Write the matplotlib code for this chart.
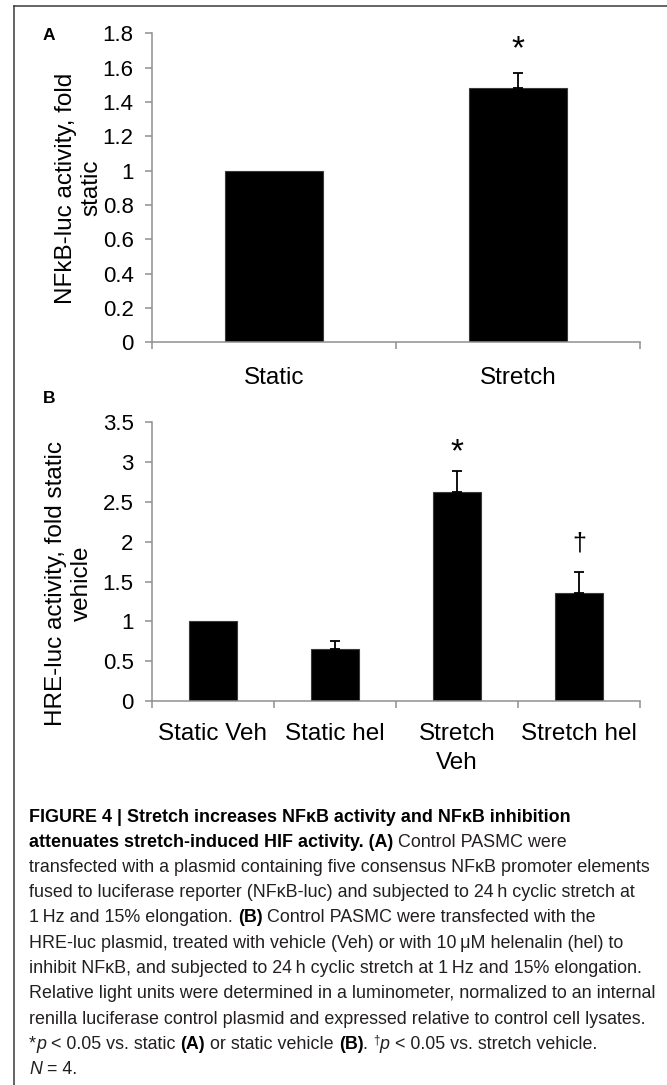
import numpy as np
import matplotlib
matplotlib.use("Agg")
import matplotlib.pyplot as plt
from matplotlib.lines import Line2D
from matplotlib.ticker import FixedLocator, FuncFormatter
from matplotlib.font_manager import FontProperties

# ---------------- data ----------------
cats_a = ["Static", "Stretch"]
vals_a = [1.0, 1.48]
err_a = [0.0, 0.09]
sig_a = ["", "*"]
yticks_a = [0, 0.2, 0.4, 0.6, 0.8, 1.0, 1.2, 1.4, 1.6, 1.8]
ylabel_a = "NFkB-luc activity, fold\nstatic"

cats_b = ["Static Veh", "Static hel", "Stretch\nVeh", "Stretch hel"]
vals_b = [1.0, 0.65, 2.63, 1.36]
err_b = [0.0, 0.10, 0.26, 0.26]
sig_b = ["", "", "*", "\u2020"]
yticks_b = [0, 0.5, 1.0, 1.5, 2.0, 2.5, 3.0, 3.5]
ylabel_b = "HRE-luc activity, fold static\nvehicle"

# ---------------- figure ----------------
W, H = 667, 1085
FAM = ["Liberation Sans", "DejaVu Sans"]
plt.rcParams["font.family"] = FAM
fig = plt.figure(figsize=(W / 100, H / 100), dpi=100)

AX_COL = "#8f8f8f"


def px_rect(x0, y_top, x1, y_bot):
    return [x0 / W, 1 - y_bot / H, (x1 - x0) / W, (y_bot - y_top) / H]


def draw_panel(rect, cats, vals, errs, sigs, yticks, xpad, sig_off):
    ax = fig.add_axes(rect)
    n = len(cats)
    x = np.arange(n)
    ax.bar(x, vals, width=0.4, color="black", edgecolor="#3a3a3a", linewidth=0.8, zorder=2)
    idx = [i for i in range(n) if errs[i] > 0]
    if idx:
        ax.errorbar([x[i] for i in idx], [vals[i] for i in idx],
                    yerr=[[0] * len(idx), [errs[i] for i in idx]],
                    fmt="none", ecolor="black", elinewidth=1.3, capsize=3.8,
                    capthick=1.3, zorder=3)
    # significance marks
    for i in range(n):
        s = sigs[i]
        if not s:
            continue
        top = vals[i] + errs[i]
        if s == "*":
            fs, cen = 24, 0.58
        else:
            fs, cen = 18, 0.29
        off = sig_off[s] - cen * fs
        ax.annotate(s, xy=(x[i], top), xytext=(0, off), textcoords="offset points",
                    ha="center", va="baseline", fontsize=fs, color="black")
    ax.set_xlim(-0.5, n - 0.5)
    ax.set_ylim(yticks[0], yticks[-1])
    for sp in ["top", "right"]:
        ax.spines[sp].set_visible(False)
    for sp in ["left", "bottom"]:
        ax.spines[sp].set_color(AX_COL)
        ax.spines[sp].set_linewidth(1.1)
    ax.yaxis.set_major_locator(FixedLocator(yticks))
    ax.yaxis.set_major_formatter(FuncFormatter(lambda v, p: f"{v:g}"))
    ax.tick_params(axis="y", direction="out", length=4.8, width=1.1, color=AX_COL,
                   labelsize=16, pad=8.5, labelcolor="black")
    ax.set_xticks(x)
    ax.set_xticklabels(cats, fontsize=17.5, multialignment="center", linespacing=1.4)
    ax.set_xticks(np.arange(-0.5, n, 1.0), minor=True)
    ax.tick_params(axis="x", which="major", length=0, pad=xpad, labelcolor="black")
    ax.tick_params(axis="x", which="minor", direction="out", length=5.2, width=1.1, color=AX_COL)
    return ax


ax_a = draw_panel(px_rect(152, 33.3, 640, 342.3), cats_a, vals_a, err_a, sig_a,
                  yticks_a, 17.5, {"*": 24.5})
ax_b = draw_panel(px_rect(152, 422.3, 640, 701), cats_b, vals_b, err_b, sig_b,
                  yticks_b, 16.0, {"*": 21, "\u2020": 20.5})

fig.text(79 / W, 1 - 188 / H, ylabel_a, rotation=90, ha="center", va="center",
         multialignment="center", fontsize=17.5)
fig.text(69 / W, 1 - 583 / H, ylabel_b, rotation=90, ha="center", va="center",
         multialignment="center", fontsize=17.5)
fig.text(49 / W, 1 - 36 / H, "A", weight="bold", ha="center", va="center", fontsize=12.5)
fig.text(49 / W, 1 - 399 / H, "B", weight="bold", ha="center", va="center", fontsize=12.5)

# frame
fig.add_artist(Line2D([14 / W, 1], [1 - 6 / H, 1 - 6 / H], transform=fig.transFigure,
                      color="#3a3a3a", lw=1.1))
fig.add_artist(Line2D([14 / W, 14 / W], [0, 1 - 6 / H], transform=fig.transFigure,
                      color="#3a3a3a", lw=1.1))

# ---------------- caption ----------------
R, B_, I_, S_ = "r", "b", "i", "sup"
ts = "\u2009"
caption = [
    [("FIGURE 4 | Stretch increases NF\u03baB activity and NF\u03baB inhibition", B_)],
    [("attenuates stretch-induced HIF activity. (A)", B_), (" Control PASMC were", R)],
    [("transfected with a plasmid containing five consensus NF\u03baB promoter elements", R)],
    [(f"fused to luciferase reporter (NF\u03baB-luc) and subjected to 24{ts}h cyclic stretch at", R)],
    [(f"1{ts}Hz and 15% elongation. ", R), ("(B)", B_), (" Control PASMC were transfected with the", R)],
    [(f"HRE-luc plasmid, treated with vehicle (Veh) or with 10{ts}\u03bcM helenalin (hel) to", R)],
    [(f"inhibit NF\u03baB, and subjected to 24{ts}h cyclic stretch at 1{ts}Hz and 15% elongation.", R)],
    [("Relative light units were determined in a luminometer, normalized to an internal", R)],
    [("renilla luciferase control plasmid and expressed relative to control cell lysates.", R)],
    [("*", R), ("p", I_), (" < 0.05 vs. static ", R), ("(A)", B_), (" or static vehicle ", R),
     ("(B)", B_), (". ", R), ("\u2020", S_), ("p", I_), (" < 0.05 vs. stretch vehicle.", R)],
    [("N", I_), (" = 4.", R)],
]

renderer = fig.canvas.get_renderer()


def fp(style, size):
    if style == B_:
        return FontProperties(family=FAM, weight="bold", size=size)
    if style == I_:
        return FontProperties(family=FAM, style="italic", size=size)
    if style == S_:
        return FontProperties(family=FAM, size=size * 0.65)
    return FontProperties(family=FAM, size=size)


def seg_width(text, style, size):
    prop = fp(style, size)
    w1, _, _ = renderer.get_text_width_height_descent("H" + text + "H", prop, ismath=False)
    w2, _, _ = renderer.get_text_width_height_descent("HH", prop, ismath=False)
    return w1 - w2


# fit caption size so that the widest regular line spans the text block width
ref_line = caption[2][0][0]
w10 = seg_width(ref_line, R, 10)
cap_size = 10 * (652 - 29) / w10

x0 = 29
first_base = 821.5
spacing = 25.25
for k, line in enumerate(caption):
    ypx = first_base + k * spacing
    x = x0
    for text, style in line:
        size = cap_size
        yy = ypx
        if style == S_:
            yy = ypx - 5
        prop = fp(style, size)
        col = "black" if style == B_ else "#231f20"
        fig.text(x / W, 1 - yy / H, text, fontproperties=prop, ha="left", va="baseline", color=col)
        x += seg_width(text, style, size)

fig.savefig("out.png", dpi=100)
